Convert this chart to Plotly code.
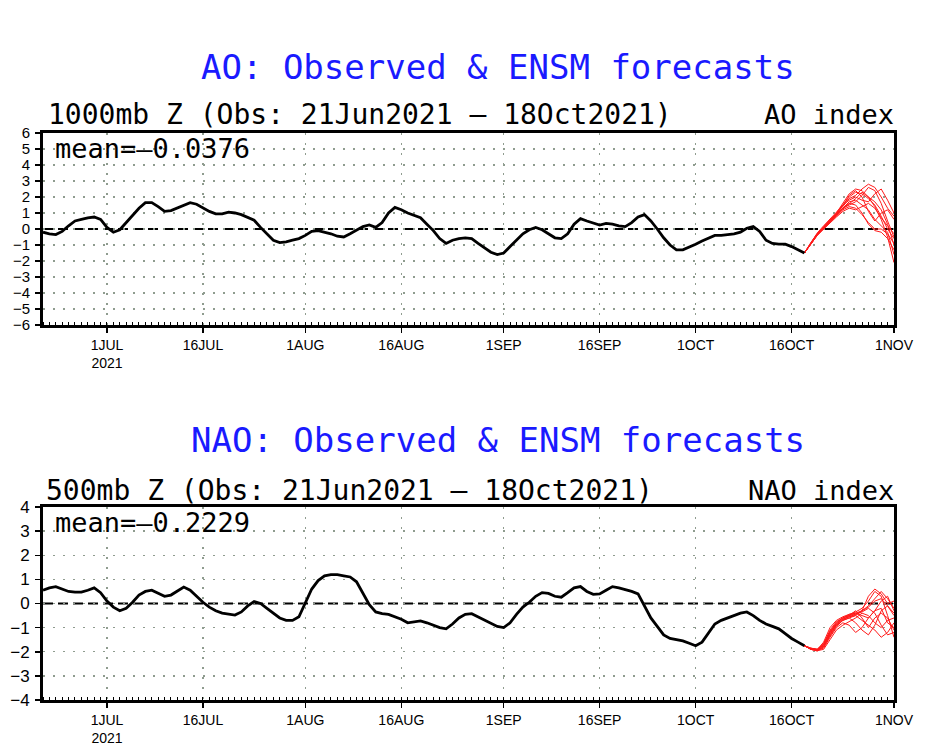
import pandas as pd
import plotly.graph_objects as go

# ---------------- data ----------------
obs_start = "2021-06-21"
fc_start = "2021-10-18"

ao_obs = [-0.2, -0.3, -0.35, -0.15, 0.2, 0.5, 0.6, 0.7, 0.75, 0.6,
          0.1, -0.2, -0.05, 0.4, 0.9, 1.3, 1.65, 1.65, 1.4, 1.1,
          1.15, 1.3, 1.5, 1.65, 1.55, 1.3, 1.1, 0.95, 0.95, 1.05,
          1.0, 0.9, 0.75, 0.55, 0.1, -0.3, -0.7, -0.85, -0.8, -0.7,
          -0.6, -0.4, -0.15, -0.1, -0.2, -0.3, -0.45, -0.5, -0.3, -0.05,
          0.15, 0.25, 0.1, 0.4, 1.0, 1.35, 1.2, 1.0, 0.85, 0.7,
          0.3, -0.1, -0.6, -0.9, -0.7, -0.6, -0.55, -0.6, -0.9, -1.2,
          -1.45, -1.6, -1.5, -1.1, -0.7, -0.3, -0.05, 0.1, -0.05, -0.3,
          -0.55, -0.6, -0.3, 0.3, 0.65, 0.5, 0.35, 0.25, 0.35, 0.3,
          0.2, 0.15, 0.4, 0.75, 0.9, 0.5, 0.0, -0.55, -1.0, -1.3,
          -1.3, -1.15, -0.95, -0.75, -0.55, -0.4, -0.4, -0.35, -0.3, -0.2,
          0.05, 0.15, -0.15, -0.7, -0.9, -0.95, -0.95, -1.1, -1.3, -1.5]

ao_fc = [
    [-1.5, -0.9, -0.35, 0.05, 0.45, 0.9, 1.5, 2.0, 2.3, 2.2, 1.9, 1.5, 0.8, 0.0, -0.6],
    [-1.5, -0.85, -0.3, 0.1, 0.5, 1.0, 1.6, 2.2, 2.5, 2.4, 2.0, 1.4, 0.6, -0.5, -2.1],
    [-1.5, -0.95, -0.4, 0.0, 0.4, 0.8, 1.2, 1.4, 1.3, 0.9, 0.4, 0.0, 0.0, -0.3, -0.9],
    [-1.5, -0.9, -0.3, 0.15, 0.55, 0.95, 1.4, 1.9, 2.1, 2.5, 2.8, 2.6, 2.0, 1.3, 0.8],
    [-1.5, -0.9, -0.35, 0.05, 0.5, 0.85, 1.3, 1.6, 1.5, 1.0, 0.3, -0.1, -0.2, -0.6, -1.3],
    [-1.5, -0.85, -0.25, 0.2, 0.6, 1.05, 1.5, 1.8, 2.0, 1.8, 1.7, 2.2, 2.5, 1.8, 1.0],
    [-1.5, -0.9, -0.3, 0.1, 0.45, 0.9, 1.3, 1.5, 1.7, 2.1, 2.6, 2.4, 1.6, 0.5, -0.5],
    [-1.5, -0.95, -0.4, 0.0, 0.4, 0.75, 1.1, 1.3, 1.2, 1.4, 1.6, 1.3, 0.7, 0.2, -0.3],
    [-1.5, -0.9, -0.35, 0.1, 0.5, 0.9, 1.35, 1.7, 1.8, 1.5, 1.2, 0.6, 0.2, -0.2, -1.6],
    [-1.5, -0.88, -0.3, 0.12, 0.52, 0.95, 1.45, 2.1, 2.4, 2.0, 1.1, 0.5, 1.0, 1.2, 0.6],
    [-1.5, -0.92, -0.38, 0.05, 0.42, 0.85, 1.25, 1.55, 1.9, 2.3, 2.0, 1.7, 1.2, 0.3, -1.0],
]

nao_obs = [0.55, 0.65, 0.7, 0.6, 0.5, 0.47, 0.47, 0.55, 0.65, 0.45,
           0.1, -0.15, -0.3, -0.2, 0.05, 0.35, 0.5, 0.55, 0.42, 0.3,
           0.35, 0.5, 0.68, 0.55, 0.3, 0.05, -0.15, -0.3, -0.4, -0.45,
           -0.48, -0.35, -0.1, 0.08, 0.0, -0.2, -0.4, -0.6, -0.7, -0.7,
           -0.55, 0.0, 0.6, 0.95, 1.15, 1.2, 1.2, 1.15, 1.1, 0.9,
           0.45, -0.05, -0.35, -0.42, -0.45, -0.55, -0.65, -0.8, -0.75, -0.72,
           -0.8, -0.9, -1.0, -1.05, -0.85, -0.6, -0.45, -0.42, -0.55, -0.7,
           -0.8, -0.95, -1.0, -0.8, -0.45, -0.15, 0.05, 0.3, 0.45, 0.42,
           0.3, 0.26, 0.45, 0.65, 0.7, 0.5, 0.38, 0.4, 0.55, 0.7,
           0.65, 0.58, 0.5, 0.4, -0.1, -0.6, -0.95, -1.3, -1.45, -1.5,
           -1.55, -1.65, -1.75, -1.6, -1.2, -0.85, -0.7, -0.6, -0.5, -0.4,
           -0.35, -0.5, -0.7, -0.85, -0.95, -1.05, -1.25, -1.45, -1.6, -1.75]

nao_fc = [
    [-1.75, -1.85, -1.9, -1.7, -1.2, -0.8, -0.6, -0.5, -0.4, -0.3, -0.1, 0.2, 0.5, 0.2, -0.2],
    [-1.75, -1.9, -1.95, -1.8, -1.3, -0.9, -0.7, -0.6, -0.8, -1.1, -1.3, -0.9, -0.3, -0.1, -0.4],
    [-1.75, -1.88, -1.92, -1.6, -1.0, -0.7, -0.55, -0.45, -0.35, -0.2, 0.1, 0.5, 0.3, -0.5, -1.4],
    [-1.75, -1.87, -1.95, -1.85, -1.4, -1.0, -0.8, -0.9, -1.2, -1.0, -0.6, -0.3, -0.2, -0.8, -1.0],
    [-1.75, -1.86, -1.9, -1.7, -1.1, -0.75, -0.6, -0.5, -0.45, -0.35, -0.2, -0.4, -0.9, -1.3, -1.2],
    [-1.75, -1.89, -1.93, -1.75, -1.25, -0.85, -0.65, -0.55, -0.5, -0.3, 0.3, 0.6, 0.4, 0.0, 0.1],
    [-1.75, -1.9, -1.96, -1.9, -1.5, -1.1, -0.9, -0.75, -0.6, -0.4, -0.5, -0.8, -1.0, -0.7, -0.6],
    [-1.75, -1.85, -1.9, -1.65, -1.15, -0.8, -0.6, -0.45, -0.4, -0.5, -0.6, -0.3, 0.1, 0.3, -0.3],
    [-1.75, -1.88, -1.94, -1.8, -1.35, -0.95, -0.7, -0.6, -0.5, -0.7, -0.9, -1.1, -1.4, -1.2, -0.8],
    [-1.75, -1.87, -1.91, -1.72, -1.2, -0.85, -0.65, -0.55, -0.45, -0.3, -0.15, 0.1, 0.2, -0.1, -0.5],
    [-1.75, -1.9, -1.97, -1.78, -1.3, -0.9, -0.7, -0.5, -0.3, -0.6, -1.0, -0.6, -0.4, -0.6, -1.1],
]

tick_dates = ["2021-07-01", "2021-07-16", "2021-08-01", "2021-08-16", "2021-09-01",
              "2021-09-16", "2021-10-01", "2021-10-16", "2021-11-01"]
tick_labels = ["1JUL<br>2021", "16JUL", "1AUG", "16AUG", "1SEP", "16SEP", "1OCT", "16OCT", "1NOV"]

ao_title = "AO: Observed & ENSM forecasts"
ao_sub = "1000mb Z (Obs: 21Jun2021 – 18Oct2021)"
ao_mean = "mean=–0.0376"
nao_title = "NAO: Observed & ENSM forecasts"
nao_sub = "500mb Z (Obs: 21Jun2021 – 18Oct2021)"
nao_mean = "mean=–0.2229"

# ---------------- figure ----------------
# page keeps the browser's default 8px body margin; the figure fills the rest
OFF = 8
W, H = 938 - 2 * OFF, 755 - 2 * OFF
obs_dates = pd.date_range(obs_start, periods=len(ao_obs), freq="D")
fc_dates = pd.date_range(fc_start, periods=len(ao_fc[0]), freq="D")

fig = go.Figure()


def add_panel(obs, fc, xa, ya):
    for m in fc:
        fig.add_trace(go.Scatter(x=fc_dates, y=m, mode="lines",
                                 line=dict(color="#ff1a1a", width=1),
                                 xaxis=xa, yaxis=ya, showlegend=False,
                                 hoverinfo="skip"))
    fig.add_trace(go.Scatter(x=obs_dates, y=obs, mode="lines",
                             line=dict(color="black", width=2.8),
                             xaxis=xa, yaxis=ya, showlegend=False))


add_panel(ao_obs, ao_fc, "x", "y")
add_panel(nao_obs, nao_fc, "x2", "y2")

px = lambda v: (v - OFF) / W
py = lambda v: 1 - (v - OFF) / H

grid_col = "#8f9c8f"
xcommon = dict(
    type="date", range=["2021-06-21", "2021-11-01"], automargin=False,
    tickmode="array", tickvals=tick_dates, ticktext=tick_labels,
    tickfont=dict(family="Liberation Sans", size=14, color="black"),
    ticks="outside", ticklen=5, tickwidth=1.5, tickcolor="black",
    showline=True, linecolor="black", linewidth=3, mirror=True,
    showgrid=True, gridcolor=grid_col, griddash="2px,8px", gridwidth=1.3,
    minor=dict(dtick=86400000, ticks="inside", ticklen=3, tickcolor="black",
               tickwidth=1, showgrid=False),
    zeroline=False, fixedrange=True,
)
ycommon = dict(
    tickmode="linear", dtick=1, automargin=False,
    tickcolor="black", ticks="outside", ticklen=5, tickwidth=1.5,
    showline=True, linecolor="black", linewidth=3, mirror=True,
    showgrid=True, gridcolor=grid_col, griddash="2px,8px", gridwidth=1.3,
    zeroline=False, fixedrange=True, ticklabelstandoff=2,
)

fig.update_layout(
    width=W, height=H, autosize=False,
    margin=dict(l=0, r=0, t=0, b=0, autoexpand=False),
    paper_bgcolor="white", plot_bgcolor="white",
    showlegend=False,
    xaxis=dict(domain=[px(43), px(894)], anchor="y", **xcommon),
    yaxis=dict(domain=[py(325), py(133)], anchor="x", range=[-6, 6],
               tickfont=dict(family="Liberation Sans", size=15, color="black"), **ycommon),
    xaxis2=dict(domain=[px(43), px(894)], anchor="y2", **xcommon),
    yaxis2=dict(domain=[py(700), py(507)], anchor="x2", range=[-4, 4],
                tickfont=dict(family="Liberation Sans", size=17, color="black"), **ycommon),
)

# dashed zero lines
for xr, yr in (("x domain", "y"), ("x2 domain", "y2")):
    fig.add_shape(type="line", xref=xr, yref=yr, x0=0, x1=1, y0=0, y1=0,
                  line=dict(color="black", width=2, dash="10px,5px"), layer="below")

mono = "DejaVu Sans Mono"
ann = []
ann.append(dict(text=ao_title, x=px(498), y=py(67), font=dict(family=mono, size=34, color="#1a1aff"),
                xanchor="center", yanchor="middle"))
ann.append(dict(text=ao_sub, x=px(46), y=py(115), font=dict(family=mono, size=28, color="black"),
                xanchor="left", yanchor="middle"))
ann.append(dict(text="AO index", x=px(896), y=py(115), font=dict(family=mono, size=27, color="black"),
                xanchor="right", yanchor="middle"))
ann.append(dict(text=ao_mean, x=px(53), y=py(148), font=dict(family=mono, size=27, color="black"),
                xanchor="left", yanchor="middle"))
ann.append(dict(text=nao_title, x=px(498), y=py(440), font=dict(family=mono, size=34, color="#1a1aff"),
                xanchor="center", yanchor="middle"))
ann.append(dict(text=nao_sub, x=px(44), y=py(490), font=dict(family=mono, size=28, color="black"),
                xanchor="left", yanchor="middle"))
ann.append(dict(text="NAO index", x=px(896), y=py(490), font=dict(family=mono, size=27, color="black"),
                xanchor="right", yanchor="middle"))
ann.append(dict(text=nao_mean, x=px(53), y=py(522), font=dict(family=mono, size=27, color="black"),
                xanchor="left", yanchor="middle"))
for a in ann:
    a.update(xref="paper", yref="paper", showarrow=False)
fig.update_layout(annotations=ann)

fig.write_html("out.html", config={"displayModeBar": False, "staticPlot": True})
